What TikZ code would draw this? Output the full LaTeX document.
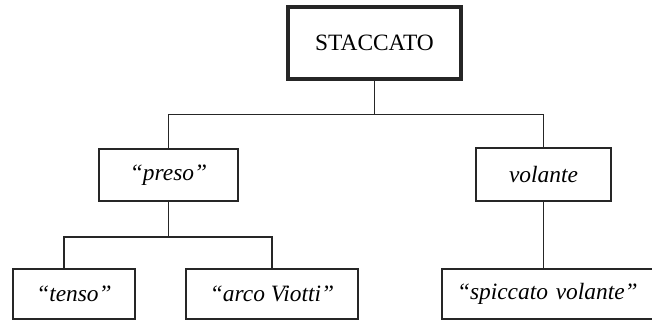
\documentclass[tikz,border=0pt]{standalone}
\usepackage{fontspec}
\setmainfont{Liberation Serif}
\usetikzlibrary{positioning}
\tikzset{
        ink/.style = {draw=black!85},
        stepbox/.style = {ink, line width=1pt, inner sep=0pt, font=\fontsize{11.7}{14}\selectfont\itshape},
        topbox/.style = {stepbox, line width=1.6pt, font=\fontsize{11.7}{14}\selectfont},
        branch/.style = {ink, line width=0.8pt}
}
\begin{document}
\begin{tikzpicture}[x=0.5pt, y=-0.5pt]

        \useasboundingbox (0,0) rectangle (652,320);
        \clip (0,0) rectangle (652,320);

        % Boxes
        \node[topbox, minimum width=86.5pt, minimum height=36pt] (stac) at (374.5,43) {STACCATO};
        \node[stepbox, minimum width=69.5pt, minimum height=26pt] (preso) at (168.5,175) {``preso''};
        \node[stepbox, minimum width=67.5pt, minimum height=26.5pt] (volante) at (543.5,174.5) {volante};
        \node[stepbox, minimum width=61pt, minimum height=25pt] (tenso) at (74,294) {``tenso''};
        \node[stepbox, minimum width=86pt, minimum height=25pt] (arco) at (272,294) {``arco Viotti''};
        \node[stepbox, inner xsep=7.5pt, text width=103pt, align=left, minimum height=25pt] (spicc) at (560,294) {``spiccato volante''};

        % Branches
        \draw[branch] (stac.south) -- ++(0,34) -| (preso.north);
        \draw[branch] (stac.south) -- ++(0,34) -| (volante.north);
        \draw[branch] (preso.south) -- ++(0,35) -| ([xshift=-5pt]tenso.north);
        \draw[branch] (preso.south) -- ++(0,35) -| (arco.north);
        \draw[branch] (volante.south) -- (volante.south |- spicc.north);

\end{tikzpicture}
\end{document}
